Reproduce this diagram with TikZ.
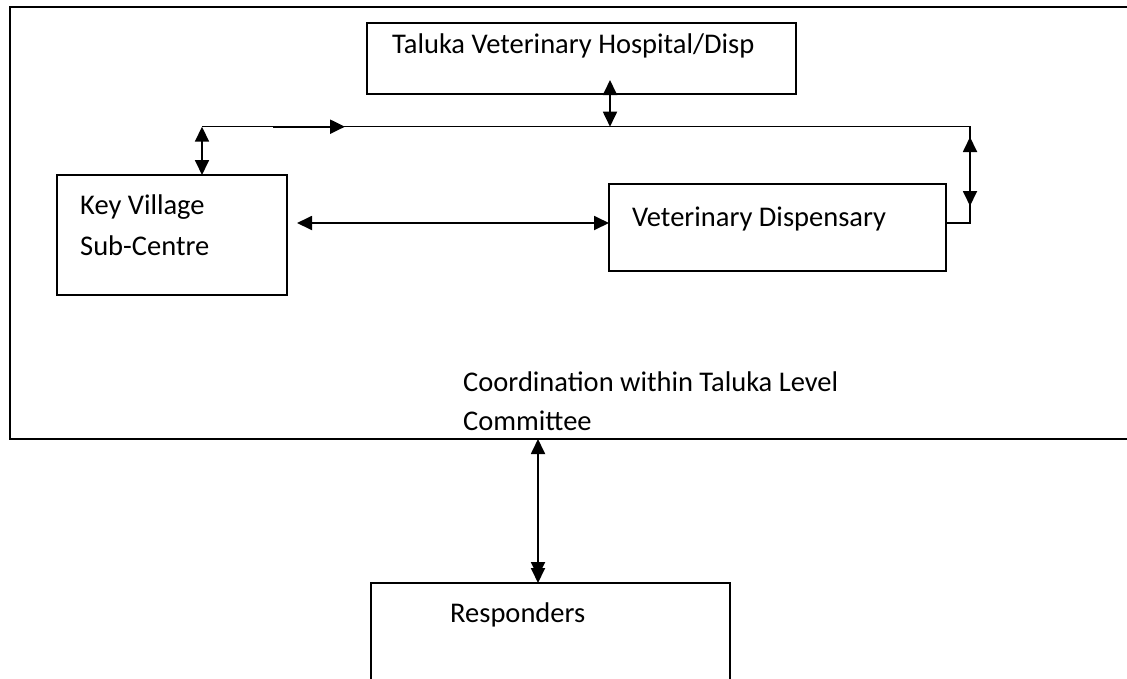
\documentclass[tikz,border=0pt]{standalone}
\usepackage{fontspec}
\setmainfont{Carlito}
\usetikzlibrary{arrows.meta,calc}
\begin{document}
\begin{tikzpicture}[x=1pt,y=-1pt,
  box/.style={draw,line width=1.3pt,outer sep=0pt,inner sep=0pt,anchor=north west},
  frame/.style={draw,line width=2.2pt,outer sep=0pt,inner sep=0pt,anchor=north west},
  lbl/.style={anchor=base west,inner sep=0pt,font=\fontsize{28.5}{41}\selectfont},
  wire/.style={line width=1.3pt},
  dbl/.style={line width=1.8pt,{Triangle[length=15pt,width=14pt]}-{Triangle[length=15pt,width=14pt]}},
  fwd/.style={line width=2.2pt,-{Triangle[length=15pt,width=14pt]}}]
\useasboundingbox (0,0) rectangle (1127,678);
\clip (0,0) rectangle (1127,678);
\fill[white] (0,0) rectangle (1127,678);

% committee frame (runs off the right edge)
\node[frame,minimum width=1140pt,minimum height=432pt] (outer) at (10,7) {};

% boxes
\node[box,minimum width=429pt,minimum height=71pt] (thv) at (367,23) {};
\node[box,minimum width=230pt,minimum height=120pt] (kv) at (57,175) {};
\node[box,minimum width=337pt,minimum height=87pt] (vd) at (609,184) {};
\node[box,minimum width=359pt,minimum height=140pt] (resp) at (371,583) {};

% texts
\node[lbl] (thvT) at (392,53) {Taluka Veterinary Hospital/Disp};
\node[lbl] (kvA) at (80,214) {Key Village};
\node[lbl] (kvB) at (80,255) {Sub-Centre};
\node[lbl] (vdT) at (632,226) {Veterinary Dispensary};
\node[lbl] (coA) at (463,391) {Coordination within Taluka Level};
\node[lbl] (coB) at (463,430) {Committee};
\node[lbl] (respT) at (450,622) {Responders};

% junction points of the common line
\coordinate (jl) at (202,126.7);
\coordinate (jm) at (610,126.7);
\coordinate (jt) at (610,80);
\coordinate (jr) at (970,126.7);
\coordinate (vr) at (970,223);
\coordinate (fa) at (273,126.7);
\coordinate (fb) at (345,126.7);
\coordinate (ra) at (970,137);
\coordinate (rb) at (970,206);
\coordinate (bx) at (538,439);

% common line from the dispensary round to the sub-centre
\draw[wire] (vd.east |- vr) -- (vr) -- (jr) -- (jl);
\draw[fwd] (fa) -- (fb);

% two-way links
\draw[dbl] (jt) -- (jm);
\draw[dbl] (jl) -- (jl |- kv.north);
\draw[dbl] (ra) -- (rb);
\draw[dbl,shorten <=10pt] (kv.east |- vr) -- (vd.west |- vr);
\draw[line width=1.8pt,{Triangle[length=15pt,width=14pt]}-{Triangle[length=15pt,width=14pt,sep=-9pt]Triangle[length=15pt,width=14pt]}] (bx) -- (resp.north -| bx);
\end{tikzpicture}
\end{document}
